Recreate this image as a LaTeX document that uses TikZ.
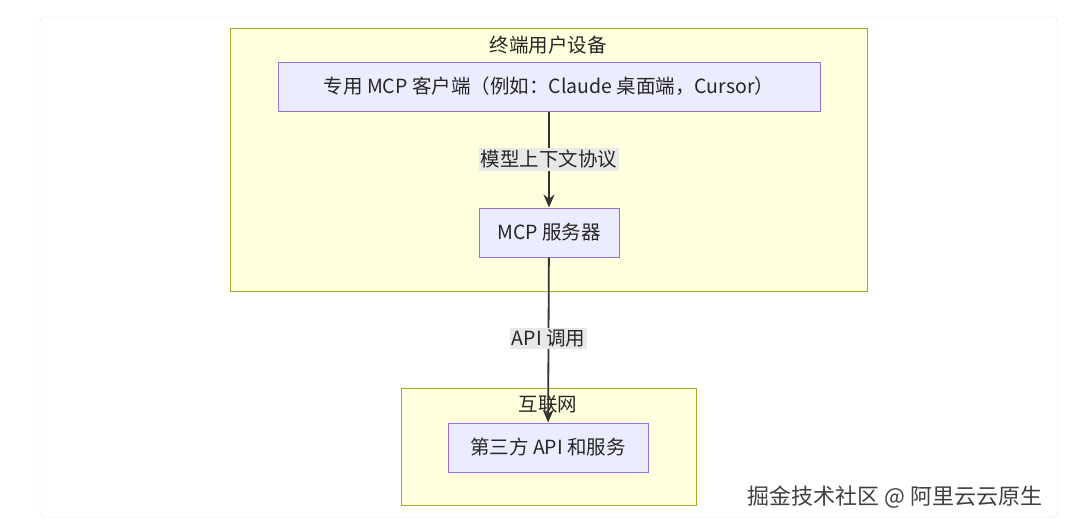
\documentclass[tikz,border=0pt]{standalone}
\usepackage{fontspec}
\setmainfont{Noto Sans CJK SC}
\usetikzlibrary{arrows.meta}
\definecolor{clfill}{HTML}{FFFFDE}
\definecolor{clline}{HTML}{AAAA33}
\definecolor{ndfill}{HTML}{ECECFF}
\definecolor{ndline}{HTML}{9370DB}
\definecolor{lblbg}{HTML}{E8E8E8}
\tikzset{
  cluster/.style={draw=clline,fill=clfill,line width=1pt},
  box/.style={draw=ndline,fill=ndfill,line width=1pt,font=\fontsize{19.5}{22}\selectfont,text=black!85},
  ttl/.style={font=\fontsize{19.5}{22}\selectfont,text=black!85},
  elbl/.style={fill=lblbg,font=\fontsize{19.5}{22}\selectfont,text=black!85,inner sep=2pt},
  conn/.style={line width=1.8pt,draw=black!80,-{Stealth[length=13pt,width=11pt]}}
}
\begin{document}
\begin{tikzpicture}[x=1pt,y=-1pt]
\useasboundingbox (0,0) rectangle (1080,531);
\fill[white] (0,0) rectangle (1080,531);
\draw[black!12,rounded corners=4pt] (40,17) rectangle (1058,517);
\draw[cluster] (230,28) rectangle (867,291);
\node[ttl] (t1) at (548,45) {终端用户设备};
\draw[cluster] (401,388) rectangle (696,505);
\node[ttl] (t2) at (548,404) {互联网};
\node[box,minimum width=542pt,minimum height=49pt] (a) at (549,86.5) {专用 MCP 客户端（例如：Claude 桌面端，Cursor）};
\node[box,minimum width=140pt,minimum height=49pt] (b) at (549,232.5) {MCP 服务器};
\node[box,minimum width=200pt,minimum height=49pt] (c) at (548,447.5) {第三方 API 和服务};
\draw[conn] (a) -- (b) node[elbl,midway] {模型上下文协议};
\draw[conn] (b) -- (c) node[elbl,pos=0.49] {API 调用};
\node[font=\fontsize{22}{26}\selectfont,text=black!75] (wm) at (895,497) {掘金技术社区 @ 阿里云云原生};
\end{tikzpicture}
\end{document}
